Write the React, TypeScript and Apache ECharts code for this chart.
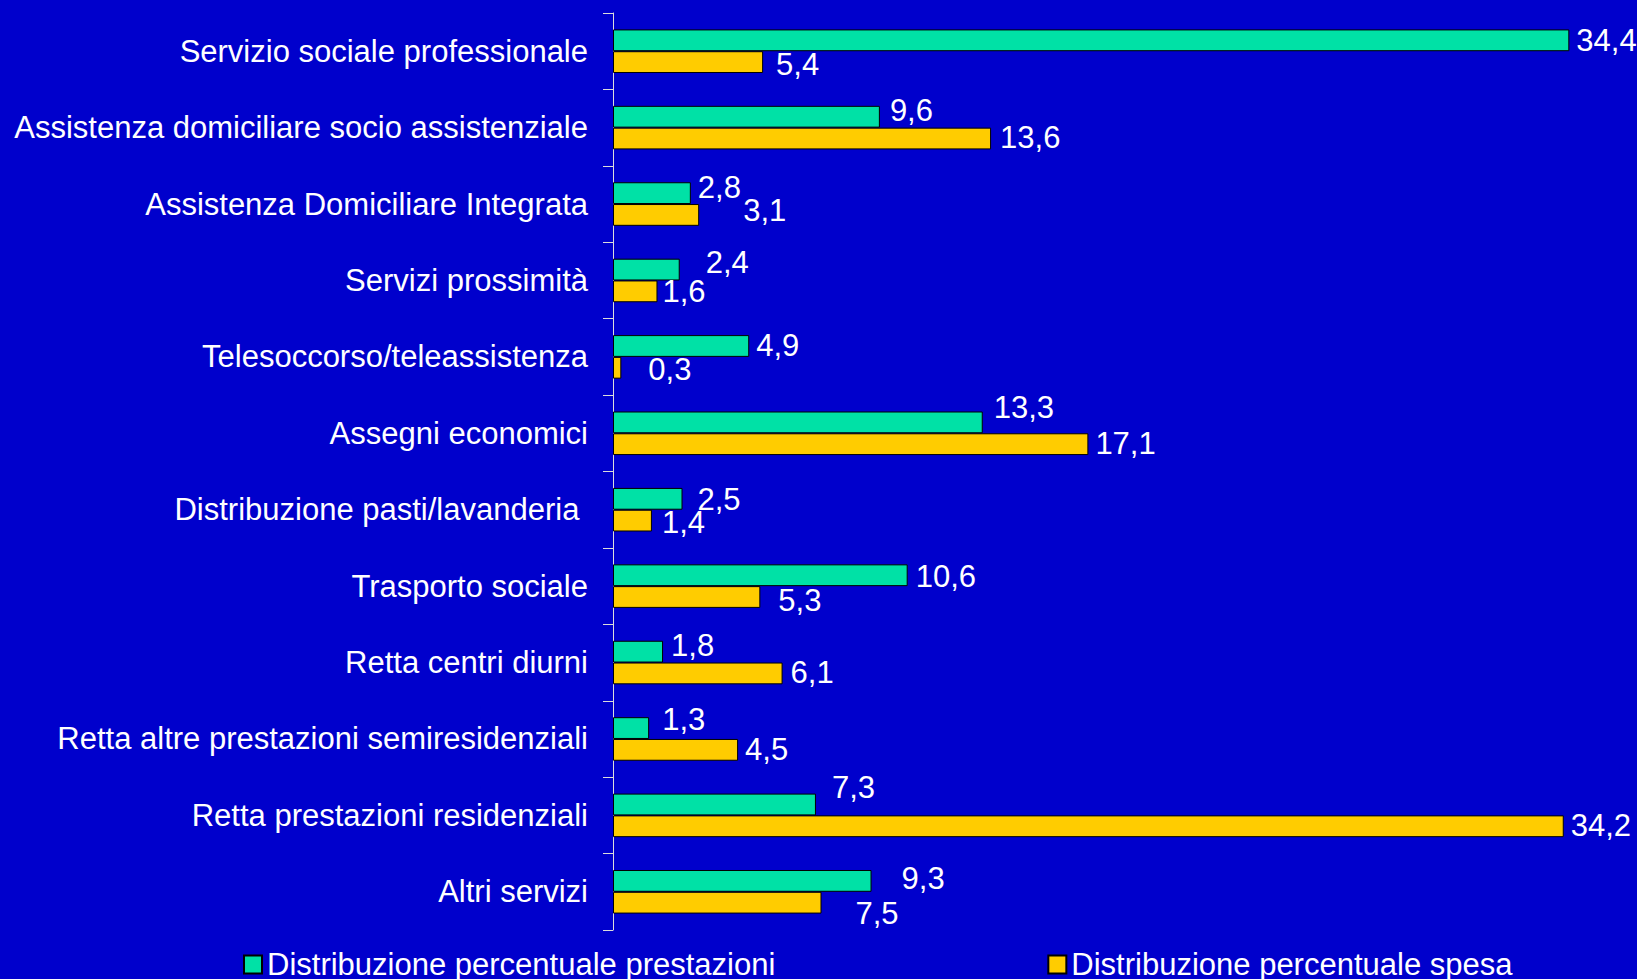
import React, { useEffect, useRef } from "react";
import * as echarts from "echarts";

const categories = [
  "Servizio sociale professionale",
  "Assistenza domiciliare socio assistenziale",
  "Assistenza Domiciliare Integrata",
  "Servizi prossimità",
  "Telesoccorso/teleassistenza",
  "Assegni economici",
  "Distribuzione pasti/lavanderia ",
  "Trasporto sociale",
  "Retta centri diurni",
  "Retta altre prestazioni semiresidenziali",
  "Retta prestazioni residenziali",
  "Altri servizi",
];

const prestazioni = [34.4, 9.6, 2.8, 2.4, 4.9, 13.3, 2.5, 10.6, 1.8, 1.3, 7.3, 9.3];
const spesa = [5.4, 13.6, 3.1, 1.6, 0.3, 17.1, 1.4, 5.3, 6.1, 4.5, 34.2, 7.5];

const seriesNames = ["Distribuzione percentuale prestazioni", "Distribuzione percentuale spesa"];

// label offsets (style only)
const prestazioniLabelOffsets = [
  [0, 0], [3, -6], [0, -6], [19, -7], [0, 0], [4, -15],
  [8, 1], [1, 1], [1, -6], [6, -9], [9, -17], [23, -2],
];
const spesaLabelOffsets = [
  [6, 2], [2, -1], [37, -4], [-2, 0], [20, 2], [0, -1],
  [3, 2], [11, 3], [1, -1], [0, 0], [0, -1], [27, 11],
];

const FONT = "'Liberation Sans', Arial, sans-serif";

export default function App() {
  const ref = useRef<HTMLDivElement>(null);
  useEffect(() => {
    if (!ref.current) return;
    const chart = echarts.init(ref.current, null, { renderer: "svg" });
    const mk = (vals: number[], offs: number[][]) =>
      vals.map((v, i) => ({ value: v, label: { offset: offs[i] } }));
    const labelBase = {
      show: true,
      position: "right" as const,
      distance: 7,
      color: "#ffffff",
      fontSize: 31,
      fontFamily: FONT,
      formatter: (p: any) => String(p.value).replace(".", ","),
    };
    chart.setOption({
      animation: false,
      backgroundColor: "#0000cc",
      grid: { left: 613, right: 51, top: 13, bottom: 49, containLabel: false },
      legend: {
        data: seriesNames,
        left: 238,
        top: 944,
        itemWidth: 18,
        itemHeight: 18,
        itemGap: 272,
        icon: "rect",
        textStyle: { color: "#ffffff", fontSize: 31, fontFamily: FONT, padding: [0, 0, 0, 0] },
      },
      xAxis: {
        type: "value",
        min: 0,
        max: 35,
        show: false,
      },
      yAxis: {
        type: "category",
        data: categories,
        inverse: true,
        axisLine: { show: true, lineStyle: { color: "#dcdcdc", width: 1 } },
        axisTick: { show: true, length: 10, lineStyle: { color: "#dcdcdc" } },
        axisLabel: { color: "#ffffff", fontSize: 31, fontFamily: FONT, margin: 25 },
        splitLine: { show: false },
      },
      series: [
        {
          name: seriesNames[0],
          type: "bar",
          data: mk(prestazioni, prestazioniLabelOffsets),
          barGap: "0%",
          barCategoryGap: "43%",
          itemStyle: { color: "#00e1a6", borderColor: "#000000", borderWidth: 1 },
          label: labelBase,
        },
        {
          name: seriesNames[1],
          type: "bar",
          data: mk(spesa, spesaLabelOffsets),
          barGap: "0%",
          barCategoryGap: "43%",
          itemStyle: { color: "#ffcc00", borderColor: "#000000", borderWidth: 1 },
          label: labelBase,
        },
      ],
    });
    return () => chart.dispose();
  }, []);
  return (
    <div
      ref={ref}
      style={{ position: "fixed", left: 0, top: 0, width: 1637, height: 979 }}
    />
  );
}
